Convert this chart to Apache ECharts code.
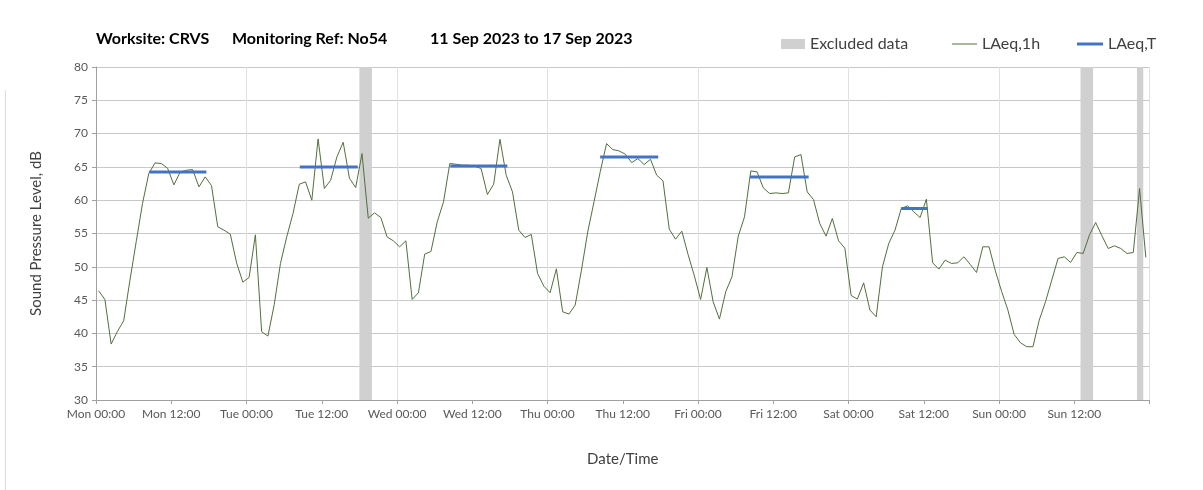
<!DOCTYPE html>
<html>
<head>
<meta charset="utf-8">
<script src="https://cdn.jsdelivr.net/npm/echarts@6/dist/echarts.min.js"></script>
<style>
html,body{margin:0;padding:0;background:#fff;}
#chart{width:1203px;height:490px;}
</style>
</head>
<body>
<div id="chart"></div>
<script>
// ---- data ----
const titleParts = ['Worksite: CRVS', 'Monitoring Ref: No54', '11 Sep 2023 to 17 Sep 2023'];
const dayNames = ['Mon', 'Tue', 'Wed', 'Thu', 'Fri', 'Sat', 'Sun', 'Mon'];
const readingMinute = 25; // hourly readings logged at hh:25
// LAeq,1h hourly values, Mon 00 -> Sun 23
const laeq1hMon = [46.4,45.1,38.4,40.3,41.9,48.0,53.8,59.5,64.0,65.6,65.5,64.8,62.3,64.2,64.5,64.6,62.0,63.5,62.2,56.0,55.5,54.9,50.6,47.7];
const laeq1hTue = [48.4,54.8,40.25,39.6,44.3,50.5,54.5,58.0,62.4,62.75,60.0,69.2,61.75,63.0,66.5,68.7,63.3,61.9,67.0,57.3,58.1,57.4,54.5,53.9];
const laeq1hWed = [53.0,53.9,45.1,46.1,51.9,52.3,56.75,59.75,65.5,65.4,65.25,65.25,65.1,64.75,60.85,62.4,69.15,63.75,61.25,55.5,54.4,54.85,49.0,47.1];
const laeq1hThu = [46.1,49.7,43.25,42.9,44.25,49.5,55.25,59.75,64.3,68.5,67.6,67.4,66.9,65.65,66.25,65.35,66.15,63.75,62.9,55.65,54.15,55.35,51.85,48.65];
const laeq1hFri = [45.1,49.9,44.75,42.15,46.25,48.5,54.6,57.5,64.4,64.25,61.85,61.0,61.1,61.0,61.1,66.5,66.85,61.25,60.1,56.5,54.6,57.25,53.9,52.8];
const laeq1hSat = [45.7,45.15,47.6,43.5,42.5,50.0,53.5,55.5,58.75,59.15,58.25,57.4,60.15,50.6,49.65,51.0,50.5,50.6,51.5,50.35,49.15,53.0,53.0,49.4];
const laeq1hSun = [46.3,43.5,39.85,38.6,38.0,38.0,42.0,44.75,48.0,51.25,51.5,50.65,52.15,52.0,54.75,56.65,54.65,52.75,53.15,52.75,52.0,52.15,61.75,51.4];
// LAeq,T daytime periods (hours from Mon 00:00)
const tStart = [8.5, 32.5, 56.5, 80.4, 104.3, 128.4];
const tEnd   = [17.6, 41.75, 65.6, 89.65, 113.65, 132.6];
const tValue = [64.25, 65.0, 65.15, 66.5, 63.5, 58.75];
// Excluded data periods (hours from Mon 00:00)
const excludedStart = [42, 157, 166];
const excludedEnd   = [44, 159, 167];

// ---- build ----
const hourly = [].concat(laeq1hMon, laeq1hTue, laeq1hWed, laeq1hThu, laeq1hFri, laeq1hSat, laeq1hSun);
const hourlyData = hourly.map((v, i) => [i + readingMinute / 60, v]);

const FONT = 'Lato';
const green = '#52703c';
const blue = '#4472c4';
const grey = '#d0d0d0';

const series = [
  {
    name: 'Excluded data', type: 'line', data: [], symbol: 'none',
    itemStyle: { color: grey }, lineStyle: { width: 0 },
    markArea: {
      silent: true,
      itemStyle: { color: grey, opacity: 1 },
      data: excludedStart.map((s, i) => [{ xAxis: s }, { xAxis: excludedEnd[i] }])
    },
    z: 1
  },
  {
    name: 'LAeq,1h', type: 'line', data: hourlyData, symbol: 'none',
    lineStyle: { color: green, width: 1 }, itemStyle: { color: green }, z: 3
  }
];
tStart.forEach((s, i) => {
  series.push({
    name: 'LAeq,T', type: 'line', symbol: 'none',
    data: [[s, tValue[i]], [tEnd[i], tValue[i]]],
    lineStyle: { color: blue, width: 3 }, itemStyle: { color: blue }, z: 4
  });
});

const legendText = { fontFamily: FONT, fontSize: 16, color: '#404040' };
function legendAt(left, name, color, w, h) {
  return {
    left: left, top: 31, itemWidth: w, itemHeight: h, icon: 'rect',
    textStyle: legendText, selectedMode: false,
    data: [{ name: name, icon: 'rect', itemStyle: { color: color, borderWidth: 0 }, lineStyle: { width: 0 } }]
  };
}

const chart = echarts.init(document.getElementById('chart'), null, { renderer: 'canvas' });
chart.setOption({
  animation: false,
  backgroundColor: '#fff',
  textStyle: { fontFamily: FONT },
  title: {
    text: '{a|' + titleParts[0] + '}{b|' + titleParts[1] + '}{c|' + titleParts[2] + '}',
    left: 96, top: 31, padding: 0,
    textStyle: {
      rich: {
        a: { fontFamily: FONT, fontSize: 16, fontWeight: 'bold', color: '#000', width: 136 },
        b: { fontFamily: FONT, fontSize: 16, fontWeight: 'bold', color: '#000', width: 198 },
        c: { fontFamily: FONT, fontSize: 16, fontWeight: 'bold', color: '#000' }
      }
    }
  },
  legend: [
    legendAt(776, 'Excluded data', grey, 24, 10),
    legendAt(947, 'LAeq,1h', green, 25, 1),
    legendAt(1072, 'LAeq,T', blue, 26, 3)
  ],
  grid: { left: 96, right: 53.5, top: 67, bottom: 90, containLabel: false },
  xAxis: [
    {
      type: 'value', min: 0, max: 168, interval: 12,
      name: 'Date/Time', nameLocation: 'middle', nameGap: 52,
      nameTextStyle: { fontFamily: FONT, fontSize: 15, color: '#404040' },
      axisLine: { show: true, lineStyle: { color: '#a0a0a0' } },
      axisTick: { show: true, length: 4, lineStyle: { color: '#a0a0a0' } },
      splitLine: { show: false },
      axisLabel: {
        fontFamily: FONT, fontSize: 12, color: '#595959', margin: 8,
        formatter: v => v >= 168 ? '' : dayNames[Math.floor(v / 24)] + ' ' + (v % 24 === 0 ? '00:00' : '12:00')
      }
    },
    {
      type: 'value', min: 0, max: 168, interval: 24, position: 'bottom',
      axisLine: { show: false }, axisTick: { show: false }, axisLabel: { show: false },
      splitLine: { show: true, lineStyle: { color: '#e0e0e0', width: 1 } }
    }
  ],
  yAxis: {
    type: 'value', min: 30, max: 80, interval: 5,
    name: 'Sound Pressure Level, dB', nameLocation: 'middle', nameGap: 52,
    nameTextStyle: { fontFamily: FONT, fontSize: 15, color: '#404040' },
    axisLine: { show: true, lineStyle: { color: '#a0a0a0' } },
    axisTick: { show: true, length: 4, lineStyle: { color: '#a0a0a0' } },
    splitLine: { show: true, lineStyle: { color: '#c8c8c8', width: 1 } },
    axisLabel: { fontFamily: FONT, fontSize: 12, color: '#595959', margin: 8 }
  },
  graphic: [
    { type: 'line', shape: { x1: 5.5, y1: 90, x2: 5.5, y2: 490 }, style: { stroke: '#dcdcdc', lineWidth: 1 }, silent: true }
  ],
  series: series
});
</script>
</body>
</html>
